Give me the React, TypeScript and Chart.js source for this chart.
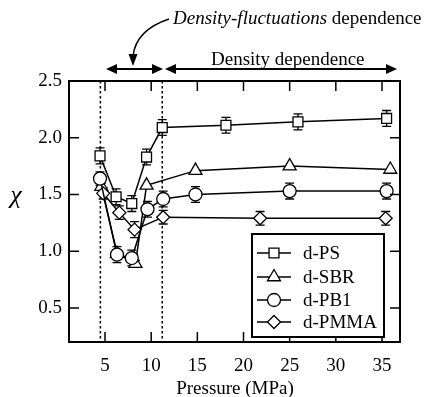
import React, { useEffect, useRef } from "react";
import { Chart, registerables } from "chart.js";

Chart.register(...registerables);

const xPS = [4.46, 6.2, 7.9, 9.5, 11.2, 18.1, 25.9, 35.5];
const yPS = [1.84, 1.48, 1.42, 1.83, 2.09, 2.11, 2.14, 2.17];
const ePS = [0.07, 0.07, 0.07, 0.07, 0.07, 0.07, 0.07, 0.07];

const xSBR = [4.6, 6.3, 8.3, 9.5, 14.8, 25.0, 35.9];
const ySBR = [1.57, 0.98, 0.89, 1.58, 1.71, 1.75, 1.72];
const eSBR = [0.03, 0, 0.03, 0, 0, 0, 0];

const xPB1 = [4.46, 6.3, 7.9, 9.6, 11.3, 14.8, 25.0, 35.5];
const yPB1 = [1.64, 0.97, 0.94, 1.37, 1.46, 1.5, 1.53, 1.53];
const ePB1 = [0.06, 0.07, 0.07, 0.07, 0.07, 0.07, 0.07, 0.07];

const xPMMA = [4.8, 6.55, 8.2, 11.3, 21.8, 35.4];
const yPMMA = [1.51, 1.34, 1.19, 1.3, 1.29, 1.29];
const ePMMA = [0.05, 0.06, 0.07, 0.06, 0.06, 0.06];

const seriesNames = ["d-PS", "d-SBR", "d-PB1", "d-PMMA"];
const xTicks = [5, 10, 15, 20, 25, 30, 35];
const yTicks = [0.5, 1.0, 1.5, 2.0, 2.5];
const dashedX = [4.5, 11.2];

const FONT = "'Liberation Serif', serif";

const styles = ["rect", "triangle", "circle", "rectRot"];
const radii = [7, 7.5, 6.5, 6.5];
const orders = [0, 1, 0, 0];

Chart.defaults.font.family = FONT;

function mk(xs: number[], ys: number[]) {
  return xs.map((x, i) => ({ x, y: ys[i] }));
}

const errs = [ePS, eSBR, ePB1, ePMMA];

function drawArrowHead(ctx: CanvasRenderingContext2D, x: number, y: number, dir: number) {
  ctx.beginPath();
  ctx.moveTo(x, y);
  ctx.lineTo(x - dir * 11, y - 5);
  ctx.lineTo(x - dir * 11, y + 5);
  ctx.closePath();
  ctx.fill();
}

function drawMarker(ctx: CanvasRenderingContext2D, style: string, r: number, x: number, y: number) {
  ctx.beginPath();
  if (style === "rect") {
    const s = r / Math.SQRT2;
    ctx.rect(x - s, y - s, 2 * s, 2 * s);
  } else if (style === "circle") {
    ctx.arc(x, y, r, 0, Math.PI * 2);
  } else if (style === "triangle") {
    ctx.moveTo(x, y - r);
    ctx.lineTo(x + r * Math.sin(Math.PI / 3), y + r / 2);
    ctx.lineTo(x - r * Math.sin(Math.PI / 3), y + r / 2);
    ctx.closePath();
  } else {
    ctx.moveTo(x, y - r);
    ctx.lineTo(x + r, y);
    ctx.lineTo(x, y + r);
    ctx.lineTo(x - r, y);
    ctx.closePath();
  }
  ctx.fill();
  ctx.stroke();
}

const overlay = {
  id: "overlay",
  beforeDatasetsDraw(chart: any) {
    const ctx = chart.ctx as CanvasRenderingContext2D;
    const xs = chart.scales.x;
    const ys = chart.scales.y;
    const a = chart.chartArea;
    ctx.save();
    ctx.strokeStyle = "#000";
    ctx.lineWidth = 1.5;
    ctx.setLineDash([2.5, 2.5]);
    dashedX.forEach((v) => {
      const px = xs.getPixelForValue(v);
      ctx.beginPath();
      ctx.moveTo(px, a.top);
      ctx.lineTo(px, a.bottom);
      ctx.stroke();
    });
    ctx.setLineDash([]);
    ctx.lineWidth = 1.3;
    chart.data.datasets.forEach((ds: any, di: number) => {
      const e = errs[di];
      ds.data.forEach((p: any, i: number) => {
        if (!e[i]) return;
        const px = xs.getPixelForValue(p.x);
        const y1 = ys.getPixelForValue(p.y + e[i]);
        const y2 = ys.getPixelForValue(p.y - e[i]);
        ctx.beginPath();
        ctx.moveTo(px, y1);
        ctx.lineTo(px, y2);
        ctx.moveTo(px - 4.5, y1);
        ctx.lineTo(px + 4.5, y1);
        ctx.moveTo(px - 4.5, y2);
        ctx.lineTo(px + 4.5, y2);
        ctx.stroke();
      });
    });
    ctx.restore();
  },
  afterDraw(chart: any) {
    const ctx = chart.ctx as CanvasRenderingContext2D;
    const xs = chart.scales.x;
    const ys = chart.scales.y;
    const a = chart.chartArea;
    ctx.save();
    ctx.strokeStyle = "#000";
    ctx.fillStyle = "#000";
    ctx.lineWidth = 2;
    ctx.strokeRect(a.left, a.top, a.right - a.left, a.bottom - a.top);
    ctx.lineWidth = 1.5;
    const tl = 10;
    xTicks.forEach((v) => {
      const px = xs.getPixelForValue(v);
      ctx.beginPath();
      ctx.moveTo(px, a.bottom);
      ctx.lineTo(px, a.bottom - tl);
      ctx.moveTo(px, a.top);
      ctx.lineTo(px, a.top + tl);
      ctx.stroke();
    });
    yTicks.forEach((v) => {
      const py = ys.getPixelForValue(v);
      ctx.beginPath();
      ctx.moveTo(a.left, py);
      ctx.lineTo(a.left + tl, py);
      ctx.moveTo(a.right, py);
      ctx.lineTo(a.right - tl, py);
      ctx.stroke();
    });

    // legend
    const lx = 252, ly = 234, lw = 132, lh = 103;
    ctx.fillStyle = "#fff";
    ctx.fillRect(lx, ly, lw, lh);
    ctx.lineWidth = 2;
    ctx.strokeRect(lx, ly, lw, lh);
    const rowY = [253, 277, 300, 322];
    ctx.font = `19px ${FONT}`;
    ctx.textBaseline = "middle";
    ctx.textAlign = "left";
    seriesNames.forEach((name, i) => {
      const y = rowY[i];
      ctx.strokeStyle = "#000";
      ctx.lineWidth = 1.5;
      ctx.beginPath();
      ctx.moveTo(257, y);
      ctx.lineTo(291, y);
      ctx.stroke();
      ctx.fillStyle = "#fff";
      ctx.lineWidth = 1.3;
      drawMarker(ctx, styles[i], radii[i], 274, y);
      ctx.fillStyle = "#000";
      ctx.fillText(name, 303, y + 1);
    });

    ctx.fillStyle = "#000";
    ctx.font = `19px ${FONT}`;
    ctx.textAlign = "center";
    ctx.textBaseline = "alphabetic";
    ctx.fillText("Pressure (MPa)", 235, 394);
    ctx.font = `italic 26px ${FONT}`;
    ctx.textBaseline = "middle";
    ctx.fillText("\u03C7", 16, 196);

    ctx.font = `19px ${FONT}`;
    ctx.textAlign = "left";
    ctx.textBaseline = "alphabetic";
    ctx.fillText("Density dependence", 211, 65);
    ctx.font = `italic 19px ${FONT}`;
    const it = "Density-fluctuations";
    ctx.fillText(it, 173, 24);
    const w = ctx.measureText(it).width;
    ctx.font = `19px ${FONT}`;
    ctx.fillText(" dependence", 173 + w, 24);

    ctx.lineWidth = 2;
    const ay = 69;
    ctx.beginPath();
    ctx.moveTo(108, ay);
    ctx.lineTo(161, ay);
    ctx.moveTo(168, ay);
    ctx.lineTo(395, ay);
    ctx.stroke();
    drawArrowHead(ctx, 106, ay, -1);
    drawArrowHead(ctx, 163, ay, 1);
    drawArrowHead(ctx, 165, ay, -1);
    drawArrowHead(ctx, 397, ay, 1);

    ctx.lineWidth = 1.5;
    ctx.beginPath();
    ctx.moveTo(169, 19);
    ctx.quadraticCurveTo(136, 30, 133, 56);
    ctx.stroke();
    ctx.beginPath();
    ctx.moveTo(133, 66);
    ctx.lineTo(128.5, 54);
    ctx.lineTo(137.5, 54);
    ctx.closePath();
    ctx.fill();

    ctx.restore();
  },
};

export default function App() {
  const ref = useRef<HTMLCanvasElement>(null);
  useEffect(() => {
    if (!ref.current) return;
    const datas = [mk(xPS, yPS), mk(xSBR, ySBR), mk(xPB1, yPB1), mk(xPMMA, yPMMA)];
    const chart = new Chart(ref.current, {
      type: "scatter",
      data: {
        datasets: datas.map((d, i) => ({
          label: seriesNames[i],
          data: d,
          order: orders[i],
          showLine: true,
          borderColor: "#000",
          borderWidth: 1.5,
          pointStyle: styles[i] as any,
          pointRadius: radii[i],
          pointBackgroundColor: "#fff",
          pointBorderColor: "#000",
          pointBorderWidth: 1.3,
          tension: 0,
        })),
      },
      options: {
        responsive: false,
        animation: false,
        events: [],
        layout: { padding: { top: 81, right: 29, left: 0, bottom: 0 } },
        plugins: { legend: { display: false }, tooltip: { enabled: false } },
        scales: {
          x: {
            type: "linear",
            min: 1.1,
            max: 36.95,
            grid: { display: false, drawTicks: false },
            border: { display: false },
            afterBuildTicks: (s: any) => {
              s.ticks = xTicks.map((v) => ({ value: v }));
            },
            afterFit: (s: any) => {
              s.height = 55;
            },
            ticks: {
              padding: 13,
              color: "#000",
              font: { family: FONT, size: 19 },
              maxRotation: 0,
              callback: (v: any) => String(v),
            },
          },
          y: {
            type: "linear",
            min: 0.2,
            max: 2.5,
            grid: { display: false, drawTicks: false },
            border: { display: false },
            afterBuildTicks: (s: any) => {
              s.ticks = yTicks.map((v) => ({ value: v }));
            },
            afterFit: (s: any) => {
              s.width = 69;
            },
            ticks: {
              padding: 7,
              color: "#000",
              font: { family: FONT, size: 19 },
              callback: (v: any) => Number(v).toFixed(1),
            },
          },
        },
      },
      plugins: [overlay],
    });
    return () => chart.destroy();
  }, []);
  return (
    <div style={{ position: "absolute", left: 0, top: 0, width: 429, height: 397, background: "#fff" }}>
      <canvas ref={ref} width={429} height={397} />
    </div>
  );
}
